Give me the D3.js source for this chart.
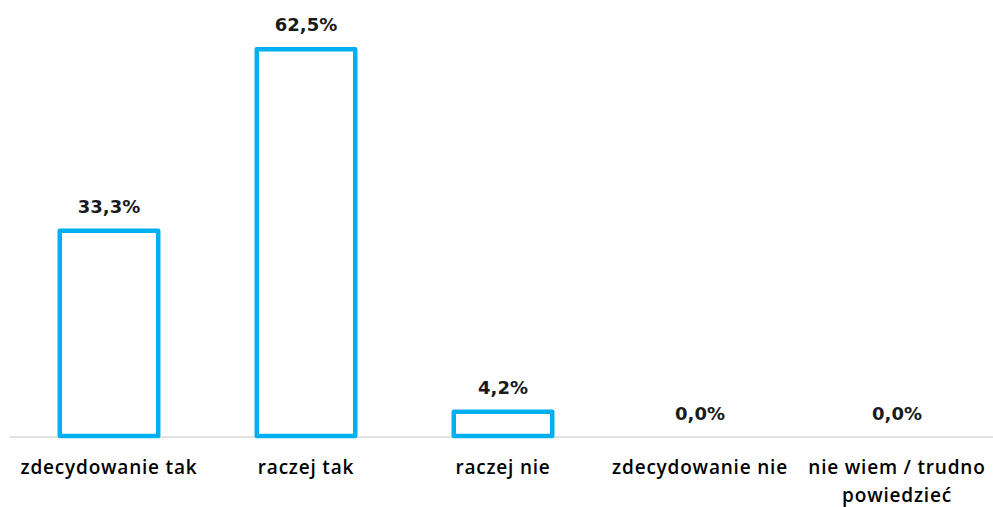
<!DOCTYPE html>
<html><head><meta charset="utf-8">
<script src="https://cdn.jsdelivr.net/npm/d3@7"></script>
<style>body{margin:0;background:#fff}</style>
</head><body>
<svg id="c" width="993" height="507"></svg>
<script>
const categories = ["zdecydowanie tak", "raczej tak", "raczej nie", "zdecydowanie nie", "nie wiem / trudno powiedzieć"];
const values = [33.3, 62.5, 4.2, 0.0, 0.0];
const labelLines = [["zdecydowanie tak"], ["raczej tak"], ["raczej nie"], ["zdecydowanie nie"], ["nie wiem / trudno", "powiedzieć"]];

const svg = d3.select("#c");
const x = d3.scaleBand().domain(categories).range([10.5, 995.5]).paddingInner(0.49).paddingOuter(0.245);
const y = d3.scaleLinear().domain([0, 70]).range([436, 0.5]);

svg.append("line").attr("x1", 10).attr("x2", 993).attr("y1", 437).attr("y2", 437)
  .attr("stroke", "#d9d9d9").attr("stroke-width", 1.5);

svg.selectAll("rect.bar").data(values).join("rect")
  .filter(d => d > 0)
  .attr("class", "bar")
  .attr("x", (d, i) => x(categories[i]) + 1)
  .attr("width", x.bandwidth() - 2)
  .attr("y", d => y(d) + 2)
  .attr("height", d => y(0) - y(d) - 2)
  .attr("fill", "#fff").attr("stroke", "#00b0f0").attr("stroke-width", 4.5)
  .attr("stroke-linejoin", "round");

svg.selectAll("text.val").data(values).join("text")
  .attr("class", "val")
  .attr("x", (d, i) => x(categories[i]) + x.bandwidth() / 2)
  .attr("y", d => y(d) - 16)
  .attr("text-anchor", "middle")
  .attr("font-family", "DejaVu Sans").attr("font-weight", "bold").attr("font-size", 18)
  .attr("fill", "#1a1a1a")
  .text(d => d.toFixed(1).replace(".", ",") + "%");

const g = svg.selectAll("text.cat").data(labelLines).join("text")
  .attr("class", "cat")
  .attr("x", (d, i) => x(categories[i]) + x.bandwidth() / 2)
  .attr("y", 474)
  .attr("text-anchor", "middle")
  .attr("font-family", "Open Sans").attr("font-weight", 600).attr("font-size", 19)
  .attr("letter-spacing", 0.8).attr("fill", "#000");
g.selectAll("tspan").data(d => d).join("tspan")
  .attr("x", function() { return this.parentNode.getAttribute("x"); })
  .attr("dy", (d, i) => i === 0 ? 0 : 28)
  .text(d => d);
</script>
</body></html>
